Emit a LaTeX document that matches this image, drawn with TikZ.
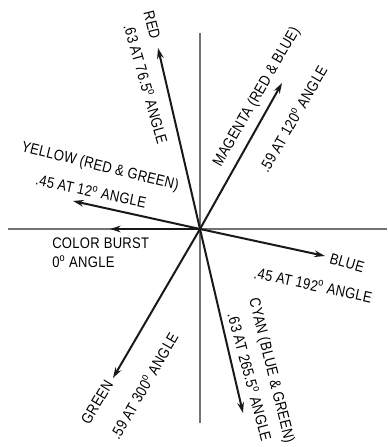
\documentclass[tikz,border=0pt]{standalone}
\usepackage{fontspec}
\usepackage{tikz}
\usetikzlibrary{arrows.meta}
\newfontfamily\lblfont[FakeStretch=0.85, LetterSpace=2]{Liberation Sans}
\newcommand{\dg}{\textsuperscript{o}}

\begin{document}
\begin{tikzpicture}[x=0.75pt, y=0.75pt,
  axis/.style={draw=black!55, line width=0.9pt},
  vec/.style={-{Stealth[length=8pt, width=5pt]}, line width=1.5pt, black!90},
  lbl/.style={font=\lblfont\fontsize{11.5}{13}\selectfont, inner sep=0pt}]
  \useasboundingbox (0,0) rectangle (387,447);
  % axes
  \coordinate (o) at (200,218);
  \coordinate (top) at (200,414);
  \coordinate (bot) at (200,24);
  \coordinate (lft) at (8,218);
  \coordinate (rgt) at (387,218);
  \draw[axis] (top) -- (bot);
  \draw[axis] (lft) -- (rgt);
  % vector tips
  \coordinate (red) at (158,399);
  \coordinate (magenta) at (282,364);
  \coordinate (yellow) at (73,246);
  \coordinate (burst) at (110,218);
  \coordinate (blue) at (325,191);
  \coordinate (cyan) at (243,34);
  \coordinate (green) at (113,69);
  \foreach \v in {red,magenta,yellow,burst,blue,cyan,green}
    \draw[vec] (o) -- (\v);
  % labels
  \node[lbl, rotate=-76] (redname) at (152,422) {RED};
  \node[lbl, rotate=-74] (redval) at (146,363) {.63 AT 76.5\dg{} ANGLE};
  \node[lbl, rotate=60] (magname) at (257,350) {MAGENTA (RED \& BLUE)};
  \node[lbl, rotate=60] (magval) at (293,328) {.59 AT 120\dg{} ANGLE};
  \node[lbl, rotate=-14] (yelname) at (100,280) {YELLOW (RED \& GREEN)};
  \node[lbl, rotate=-12] (yelval) at (91,256) {.45 AT 12\dg{} ANGLE};
  \node[lbl, anchor=west] (burstname) at (52,204) {COLOR BURST};
  \node[lbl, anchor=west] (burstval) at (52,185) {0\dg{} ANGLE};
  \node[lbl, rotate=-16] (bluename) at (347,184) {BLUE};
  \node[lbl, rotate=-12] (blueval) at (313,162) {.45 AT 192\dg{} ANGLE};
  \node[lbl, rotate=-76] (cyanname) at (271,76) {CYAN (BLUE \& GREEN)};
  \node[lbl, rotate=-75] (cyanval) at (250,70) {.63 AT 265.5\dg{} ANGLE};
  \node[lbl, rotate=59] (greenname) at (97,45) {GREEN};
  \node[lbl, rotate=60] (greenval) at (144,61) {.59 AT 300\dg{} ANGLE};
\end{tikzpicture}
\end{document}
